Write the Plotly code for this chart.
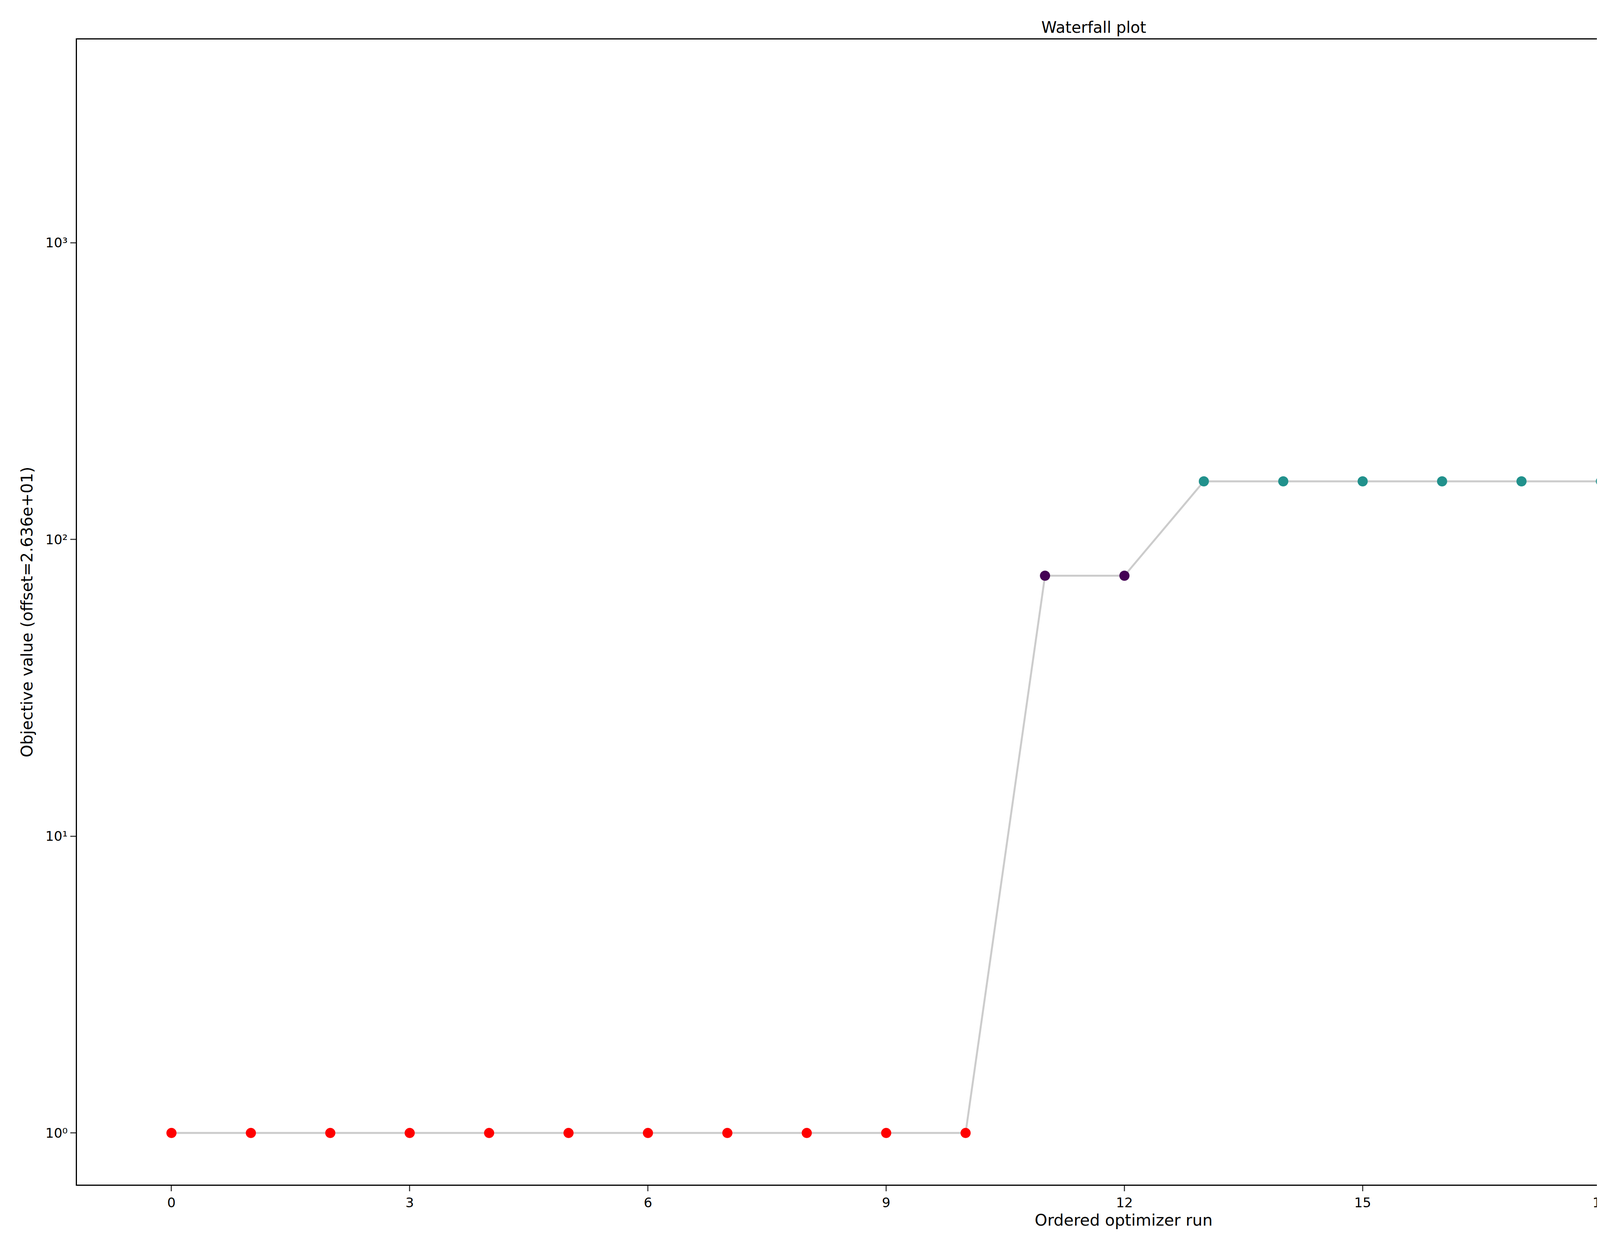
import plotly.graph_objects as go

runs = list(range(25))
values = [1.0]*11 + [75.5, 75.5] + [157.0]*6 + [2620.0]*5 + [3250.0]
colors = ["#ff0000"]*11 + ["#440154"]*2 + ["#21918c"]*6 + ["#fde725"]*5 + ["#b3b3b3"]
xticks = list(range(0, 25, 3))
ytick_vals = [1, 10, 100, 1000]
ytick_text = ["10⁰", "10¹", "10²", "10³"]

fig = go.Figure()
fig.add_trace(go.Scatter(x=runs, y=values, mode="lines",
                         line=dict(color="#cccccc", width=5), hoverinfo="skip"))
fig.add_trace(go.Scatter(x=runs, y=values, mode="markers",
                         marker=dict(color=colors, size=26, line=dict(width=0))))

font = dict(family="DejaVu Sans", size=34, color="black")
fig.update_layout(
    width=5584, height=3184, autosize=False, showlegend=False,
    paper_bgcolor="white", plot_bgcolor="white",
    margin=dict(l=189, r=36, t=93, b=160),
    font=font,
    title=dict(text="Waterfall plot", x=0.5, xanchor="center", y=0.985, font=dict(size=40)),
    xaxis=dict(range=[-1.19, 25.17], tickvals=xticks, showgrid=False, zeroline=False,
               showline=True, mirror=True, linecolor="black", linewidth=3,
               ticks="outside", ticklen=14, tickwidth=3,
               title=dict(text="Ordered optimizer run", standoff=12)),
    yaxis=dict(type="log", range=[-0.174, 3.685], tickvals=ytick_vals, ticktext=ytick_text,
               showgrid=False, zeroline=False, showline=True, mirror=True,
               linecolor="black", linewidth=3, ticks="outside", ticklen=14, tickwidth=3,
               title=dict(text="Objective value (offset=2.636e+01)", standoff=20)),
)
fig.write_html("out.html", config={"responsive": False})
